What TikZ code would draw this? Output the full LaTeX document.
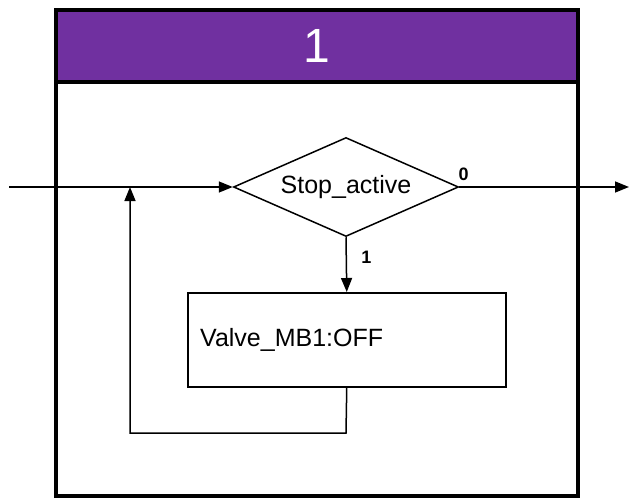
\documentclass[tikz,border=0pt]{standalone}
\usepackage{fontspec}
\setmainfont{Liberation Sans}
\usetikzlibrary{shapes.geometric,arrows.meta}
\definecolor{hdrpurple}{HTML}{7030A0}
\tikzset{
  conn/.style={line width=1.5pt,-{Triangle[length=14pt,width=11pt]}},
  bigtext/.style={font=\fontsize{25}{30}\selectfont},
  lbl/.style={font=\bfseries\fontsize{18}{21}\selectfont, inner sep=0pt},
}
\begin{document}
\begin{tikzpicture}[x=1pt,y=-1pt]
\useasboundingbox (0,0) rectangle (629,500);
% outer frame
\node[draw, line width=4pt, minimum width=522pt, minimum height=486pt, inner sep=0pt, anchor=north west] (frame) at (54,8) {};
\node[draw, fill=hdrpurple, line width=4pt, minimum width=522pt, minimum height=72pt, inner sep=0pt, anchor=north west, text=white, font=\fontsize{48}{54}\selectfont] (hdr) at (54,8) {1};
% decision
\node[draw, diamond, line width=1.5pt, aspect=2.27, inner sep=0pt, minimum width=225pt, minimum height=99pt, bigtext] (dec) at (346,187) {Stop\_active};
% action box
\node[draw, line width=1.5pt, minimum width=318pt, minimum height=94pt, inner sep=0pt, anchor=north west] (act) at (187,292) {};
\node[bigtext, anchor=west, inner sep=0pt] (acttxt) at (200,340) {Valve\_MB1:OFF};
% coordinates
\coordinate (in) at (9,187);
\coordinate (out) at (629,187);
\coordinate (fb1) at (346,433);
\coordinate (fb2) at (130,433);
\coordinate (fb3) at (130,187);
% connectors
\draw[conn] (in) -- (dec.west);
\draw[conn] (dec.east) -- (out);
\draw[conn] (dec.south) -- (act.north);
\draw[conn] (act.south) -- (fb1) -- (fb2) -- (fb3);
% labels
\node[lbl] (l0) at (463.5,174.5) {0};
\node[lbl] (l1) at (366.5,257.5) {1};
\end{tikzpicture}
\end{document}
